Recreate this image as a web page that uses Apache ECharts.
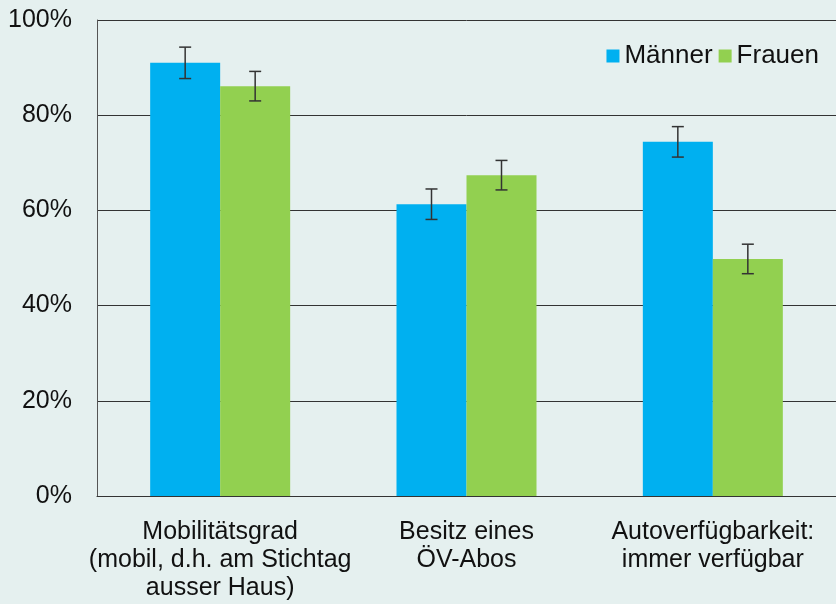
<!DOCTYPE html>
<html lang="de">
<head>
<meta charset="UTF-8">
<title>Mobilität Männer/Frauen</title>
<script src="https://cdn.jsdelivr.net/npm/echarts@6/dist/echarts.min.js"></script>
<style>
  html, body { margin: 0; padding: 0; background: #e5f0ef; }
  #chart { width: 836px; height: 604px; }
</style>
</head>
<body>
<div id="chart"></div>
<script>
var categories = ['Mobilitätsgrad\n(mobil, d.h. am Stichtag\nausser Haus)', 'Besitz eines\nÖV-Abos', 'Autoverfügbarkeit:\nimmer verfügbar'];
var maenner = [91.0, 61.3, 74.4];
var frauen = [86.1, 67.4, 49.8];
// +/- error in percentage points
var maennerErr = [3.3, 3.2, 3.2];
var frauenErr = [3.1, 3.1, 3.1];

var chart = echarts.init(document.getElementById('chart'));

function errSeries(name, values, errs, offsetSign) {
    var data = values.map(function (v, i) { return [i, v - errs[i], v + errs[i]]; });
    return {
        type: 'custom',
        name: name + ' Fehler',
        data: data,
        z: 10,
        renderItem: function (params, api) {
            var i = api.value(0);
            var lo = api.coord([i, api.value(1)]);
            var hi = api.coord([i, api.value(2)]);
            var x = lo[0] + offsetSign * 35;
            var cap = 6;
            var st = { stroke: '#333', lineWidth: 1.5 };
            return {
                type: 'group',
                children: [
                    { type: 'line', shape: { x1: x, y1: lo[1], x2: x, y2: hi[1] }, style: st },
                    { type: 'line', shape: { x1: x - cap, y1: lo[1], x2: x + cap, y2: lo[1] }, style: st },
                    { type: 'line', shape: { x1: x - cap, y1: hi[1], x2: x + cap, y2: hi[1] }, style: st }
                ]
            };
        }
    };
}

var option = {
    backgroundColor: '#e5f0ef',
    animation: false,
    textStyle: { fontFamily: 'Liberation Sans, Arial, sans-serif' },
    grid: { left: 97, right: 0, top: 20, bottom: 108, containLabel: false },
    legend: {
        data: ['Männer', 'Frauen'],
        right: 12,
        top: 38,
        itemWidth: 13,
        itemHeight: 13,
        itemGap: 6,
        icon: 'rect',
        textStyle: { fontSize: 26, color: '#111' }
    },
    xAxis: {
        type: 'category',
        data: categories,
        axisLine: { lineStyle: { color: '#333', width: 1 } },
        axisTick: { show: false },
        axisLabel: {
            interval: 0,
            color: '#111',
            fontSize: 25,
            lineHeight: 28,
            margin: 22
        }
    },
    yAxis: {
        type: 'value',
        min: 0,
        max: 100,
        interval: 20,
        axisLine: { show: true, lineStyle: { color: '#555', width: 1 } },
        axisTick: { show: false },
        axisLabel: { formatter: '{value}%', fontSize: 25, color: '#111', margin: 25 },
        splitLine: { lineStyle: { color: '#333', width: 1 } }
    },
    series: [
        {
            name: 'Männer',
            type: 'bar',
            data: maenner,
            barWidth: 70,
            barGap: '0%',
            itemStyle: { color: '#00b0f0' }
        },
        {
            name: 'Frauen',
            type: 'bar',
            data: frauen,
            barWidth: 70,
            barGap: '0%',
            itemStyle: { color: '#92d050' }
        },
        errSeries('Männer', maenner, maennerErr, -1),
        errSeries('Frauen', frauen, frauenErr, 1)
    ]
};
chart.setOption(option);
</script>
</body>
</html>
